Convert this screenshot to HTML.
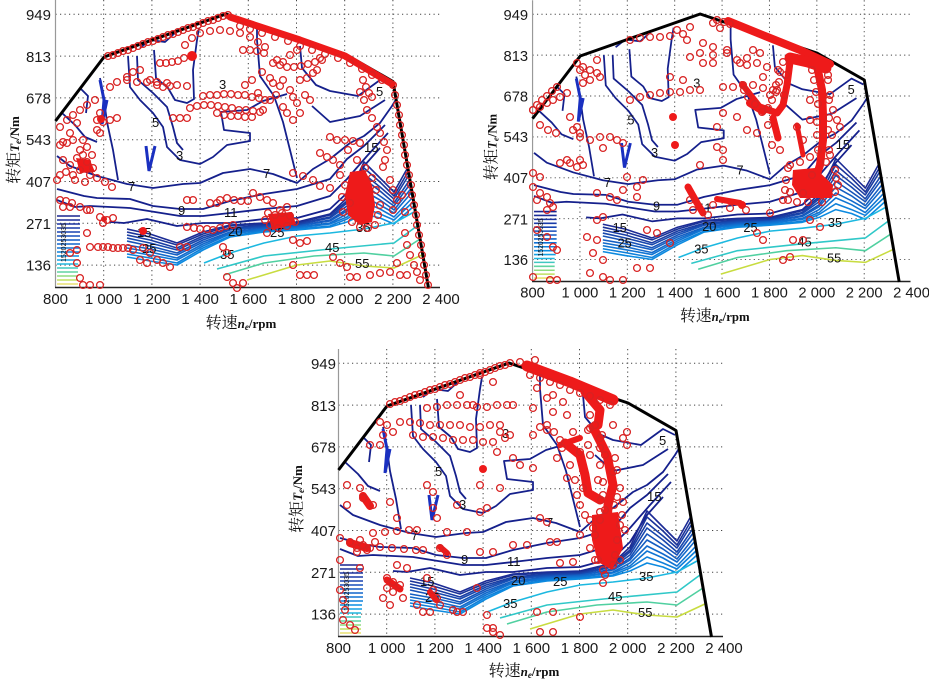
<!DOCTYPE html>
<html><head><meta charset="utf-8">
<style>
body{margin:0;background:#fff}
svg{display:block}
.p{fill:none;stroke:none;marker-start:url(#m);marker-mid:url(#m);marker-end:url(#m)}
.t{font-family:"Liberation Sans",sans-serif;font-size:15px;fill:#1a1a1a}
.cl{font-family:"Liberation Sans",sans-serif;font-size:13px;fill:#111}
.nv{fill:none;stroke:#15208c;stroke-width:1.8;stroke-linejoin:round}
.rd{fill:none;stroke:#ee1a1a;stroke-linecap:round;stroke-linejoin:round}
.ti{font-family:"Liberation Serif","Noto Serif CJK SC",serif;font-size:16px;fill:#111}
.b{font-weight:bold;font-size:13px}
.bi{font-weight:bold;font-style:italic;font-size:13px}
.sb{font-weight:bold;font-style:italic;font-size:9px}
</style></head><body>
<svg width="929" height="680" viewBox="0 0 929 680" xmlns="http://www.w3.org/2000/svg">
<defs>
<marker id="m" markerUnits="userSpaceOnUse" markerWidth="10" markerHeight="10" refX="5" refY="5" overflow="visible"><circle cx="5" cy="5" r="3.4" fill="none" stroke="#d82222" stroke-width="1.3"/></marker>
<clipPath id="cb"><polygon points="55.5,121 104,57 226,13 345,54 393,81.5 428.5,288 55.5,288"/></clipPath>
<g id="fr">
<path d="M55.5,14.3H440M55.5,56.1H440M55.5,97.9H440M55.5,139.7H440M55.5,181.5H440M55.5,223.3H440M55.5,265.1H440M103.7,0V287M151.9,0V287M200.1,0V287M248.3,0V287M296.5,0V287M344.7,0V287M392.9,0V287" stroke="#444" stroke-width="1" stroke-dasharray="1.2 3.3" fill="none"/>
<path d="M55.5,0V287.5" stroke="#999" stroke-width="1.2"/>
<path d="M55,287.5H440" stroke="#222" stroke-width="1.6"/>
</g>
<g id="ct" clip-path="url(#cb)">
<polyline class="nv" points="57,156 70,166 97,176 127,184 153,188 183,184 200,183 223,173 250,169 273,174 297,183 313,169 330,159 350,143 364,136 380,123 392,106 400,93"/>
<polyline class="nv" points="57,189 84,196 97,198 130,199 153,206 180,209 203,209 230,201 264,194 297,189 330,179 347,159 364,146 385,125"/>
<polyline class="nv" points="57,200 75,207 90,206 130,208 180,216 203,216 230,213 264,209 297,206 330,196 347,179 367,156 388,133"/>
<polyline class="nv" points="110,222 124,223 147,219 177,226 203,223 230,223 264,219 297,218 330,209 347,193 364,166 380,148"/>
<polyline class="nv" points="128,56 130,87 140,100 153,113 163,127 167,147 180,160 200,164 213,157 227,145 250,141 250,133 224,130 221,112 247,110 263,101 287,94"/>
<polyline class="nv" points="257,20 257,40 260,76 274,96 283,122 290,150 297,178"/>
<polyline class="nv" points="137,56 138,80 153,93 167,107 173,127 177,143 183,150"/>
<polyline class="nv" points="154,50 156,78 168,88 175,100 187,103 194,99 193,70 197,40 199,28"/>
<polyline class="nv" points="300,46 302,68 316,85 330,91 358,96 380,80 392,86"/>
<polyline class="nv" points="312,106 330,122 360,116 385,100"/>
<polyline class="nv" points="100,78 104,100 107,122 113,150 118,180"/>
<polyline class="nv" points="62,113 75,125 85,137 97,142"/>
<polyline class="nv" points="75,83 88,96 86,113"/>
<polyline class="nv" points="140,48 150,40 165,42 175,33"/>
<polyline points="100,80 104,100 102,124 107,100" fill="none" stroke="#1a30c0" stroke-width="3"/>
<polyline points="146,146 149,171 155,146" fill="none" stroke="#1a30c0" stroke-width="3"/>
<g fill="none" stroke-width="1.6" stroke-linejoin="round">
<polyline stroke="#1b2a95" points="127,229 150,234 177,243 203,232 230,225 264,223 297,222 330,214 347,198 364,162 380,178 394,192 412,160"/>
<polyline stroke="#1a3399" points="127,232 150,237 177,245 203,234 230,226 264,224 297,223 330,215 347,201 364,168 380,182 394,196 412,165"/>
<polyline stroke="#1a3da3" points="127,235 150,240 177,248 203,236 230,228 264,225 297,224 330,217 347,203 364,174 380,187 394,199 412,170"/>
<polyline stroke="#1847ad" points="127,238 150,243 177,250 203,238 230,229 264,226 297,225 330,218 347,206 364,179 380,191 394,203 413,175"/>
<polyline stroke="#1652b8" points="127,241 150,246 177,253 203,240 230,230 264,227 297,226 330,220 347,209 364,185 380,196 394,206 413,180"/>
<polyline stroke="#145ec2" points="127,245 150,249 177,255 203,242 230,232 264,228 297,226 330,221 347,211 364,191 380,200 394,210 413,186"/>
<polyline stroke="#126acb" points="127,248 150,252 177,258 203,244 230,233 264,229 297,227 330,223 347,214 364,197 380,205 394,213 413,191"/>
<polyline stroke="#1075d3" points="127,251 150,255 177,260 203,246 230,234 264,230 297,228 330,224 347,217 364,202 380,209 394,217 414,196"/>
<polyline stroke="#0e80da" points="127,254 150,258 177,263 203,248 230,236 264,231 297,229 330,226 347,219 364,208 380,214 394,220 414,201"/>
<polyline stroke="#0c8ae0" points="127,257 150,261 177,265 203,250 230,237 264,232 297,230 330,227 347,222 364,214 380,218 394,224 414,206"/>
<polyline stroke="#1cb8e0" points="204,263 230,253 264,243 297,236 330,233 364,229 394,223 414,212"/>
<polyline stroke="#30c8c8" points="217,269 264,256 330,249 394,243 417,226"/>
<polyline stroke="#50d0a0" points="224,275 264,263 314,256 364,253 394,256 420,239"/>
<polyline stroke="#c8dc40" points="247,280 297,265 330,261 364,266 394,268 424,254"/>
</g>
<g stroke-width="1.6">
<path d="M57,216H80" stroke="#1a2590"/><path d="M57,220H80" stroke="#1a2c98"/><path d="M57,224H80" stroke="#1b33a0"/><path d="M57,228H80" stroke="#1a3ba8"/><path d="M57,232H80" stroke="#1844b2"/><path d="M57,236H80" stroke="#164ebb"/><path d="M57,240H80" stroke="#145ac4"/><path d="M57,244H80" stroke="#1266cc"/><path d="M57,248H80" stroke="#1072d4"/><path d="M57,252H80" stroke="#0e80dc"/><path d="M57,256H79" stroke="#0c8ee2"/><path d="M57,260H79" stroke="#16a0e4"/><path d="M57,264H78" stroke="#20b8e0"/><path d="M57,268H78" stroke="#40c8c0"/><path d="M57,272H78" stroke="#60d4a0"/><path d="M57,276H78" stroke="#90dc80"/><path d="M57,280H78" stroke="#c0e060"/><path d="M57,284H78" stroke="#e8e070"/>
</g>
</g>
<polyline id="bd" points="55.5,121 104,57 226,14 345,54 393,81.5 428.5,288" fill="none" stroke="#000" stroke-width="3" stroke-linejoin="round"/>
</defs>

<!-- PLOT 1 -->
<g>
<use href="#fr"/><use href="#ct"/><use href="#bd"/>
<g class="cl">
<text x="219" y="89">3</text><text x="152" y="127">5</text><text x="176" y="160">3</text><text x="128" y="191">7</text><text x="263" y="178">7</text><text x="178" y="215">9</text><text x="224" y="217">11</text><text x="137" y="237">15</text><text x="142" y="253">25</text><text x="228" y="236">20</text><text x="270" y="237">25</text><text x="356" y="232">35</text><text x="325" y="252">45</text><text x="355" y="268">55</text><text x="220" y="259">35</text><text x="376" y="96">5</text><text x="364" y="152">15</text>
<text transform="translate(66,262) rotate(-90)" font-size="7">1520253035</text>
</g>
<g class="t" text-anchor="end"><text x="51" y="20">949</text><text x="51" y="62">813</text><text x="51" y="103.5">678</text><text x="51" y="145">543</text><text x="51" y="187">407</text><text x="51" y="229">271</text><text x="51" y="270.5">136</text></g>
<g class="t" text-anchor="middle"><text x="55.5" y="304">800</text><text x="103.7" y="304">1 000</text><text x="151.9" y="304">1 200</text><text x="200.1" y="304">1 400</text><text x="248.3" y="304">1 600</text><text x="296.5" y="304">1 800</text><text x="344.7" y="304">2 000</text><text x="392.9" y="304">2 200</text><text x="441" y="304">2 400</text></g>
<text class="ti" transform="translate(19,150) rotate(-90)" text-anchor="middle">转矩<tspan class="bi">T</tspan><tspan class="sb" dy="2">e</tspan><tspan class="b" dy="-2">/Nm</tspan></text>
<text class="ti" x="241" y="328" text-anchor="middle">转速<tspan class="bi">n</tspan><tspan class="sb" dy="2">e</tspan><tspan class="b" dy="-2">/rpm</tspan></text>
</g>

<!-- PLOT 2 -->
<g transform="translate(478,0.3) scale(0.983,0.978)">
<use href="#fr"/><use href="#ct"/><use href="#bd"/>
<g class="cl">
<text x="219" y="89">3</text><text x="152" y="127">5</text><text x="176" y="160">3</text><text x="128" y="191">7</text><text x="263" y="178">7</text><text x="178" y="215">9</text><text x="224" y="217">11</text><text x="137" y="237">15</text><text x="142" y="253">25</text><text x="228" y="236">20</text><text x="270" y="237">25</text><text x="356" y="232">35</text><text x="325" y="252">45</text><text x="355" y="268">55</text><text x="220" y="259">35</text><text x="376" y="96">5</text><text x="364" y="152">15</text>
<text transform="translate(66,262) rotate(-90)" font-size="7">1520253035</text>
</g>
<g class="t" text-anchor="end"><text x="51" y="20">949</text><text x="51" y="62">813</text><text x="51" y="103.5">678</text><text x="51" y="145">543</text><text x="51" y="187">407</text><text x="51" y="229">271</text><text x="51" y="270.5">136</text></g>
<g class="t" text-anchor="middle"><text x="55.5" y="304">800</text><text x="103.7" y="304">1 000</text><text x="151.9" y="304">1 200</text><text x="200.1" y="304">1 400</text><text x="248.3" y="304">1 600</text><text x="296.5" y="304">1 800</text><text x="344.7" y="304">2 000</text><text x="392.9" y="304">2 200</text><text x="441" y="304">2 400</text></g>
<text class="ti" transform="translate(19,150) rotate(-90)" text-anchor="middle">转矩<tspan class="bi">T</tspan><tspan class="sb" dy="2">e</tspan><tspan class="b" dy="-2">/Nm</tspan></text>
<text class="ti" x="241" y="328" text-anchor="middle">转速<tspan class="bi">n</tspan><tspan class="sb" dy="2">e</tspan><tspan class="b" dy="-2">/rpm</tspan></text>
</g>

<!-- PLOT 3 -->
<g transform="translate(283,349)">
<use href="#fr"/><use href="#ct"/><use href="#bd"/>
<g class="cl">
<text x="219" y="89">3</text><text x="152" y="127">5</text><text x="176" y="160">3</text><text x="128" y="191">7</text><text x="263" y="178">7</text><text x="178" y="215">9</text><text x="224" y="217">11</text><text x="137" y="237">15</text><text x="142" y="253">25</text><text x="228" y="236">20</text><text x="270" y="237">25</text><text x="356" y="232">35</text><text x="325" y="252">45</text><text x="355" y="268">55</text><text x="220" y="259">35</text><text x="376" y="96">5</text><text x="364" y="152">15</text>
<text transform="translate(66,262) rotate(-90)" font-size="7">1520253035</text>
</g>
<g class="t" text-anchor="end"><text x="53" y="20">949</text><text x="53" y="62">813</text><text x="53" y="103.5">678</text><text x="53" y="145">543</text><text x="53" y="187">407</text><text x="53" y="229">271</text><text x="53" y="270.5">136</text></g>
<g class="t" text-anchor="middle"><text x="55.5" y="304">800</text><text x="103.7" y="304">1 000</text><text x="151.9" y="304">1 200</text><text x="200.1" y="304">1 400</text><text x="248.3" y="304">1 600</text><text x="296.5" y="304">1 800</text><text x="344.7" y="304">2 000</text><text x="392.9" y="304">2 200</text><text x="441" y="304">2 400</text></g>
<text class="ti" transform="translate(19,150) rotate(-90)" text-anchor="middle">转矩<tspan class="bi">T</tspan><tspan class="sb" dy="2">e</tspan><tspan class="b" dy="-2">/Nm</tspan></text>
<text class="ti" x="241" y="327" text-anchor="middle">转速<tspan class="bi">n</tspan><tspan class="sb" dy="2">e</tspan><tspan class="b" dy="-2">/rpm</tspan></text>
</g>

<!-- SCATTER PLOT 1 -->
<g>
<polyline class="rd" stroke-width="7" points="230,17 300,40 345,56 392,84"/>
<path fill="#ee1a1a" d="M350,172 L365,170 L372,185 L375,205 L372,222 L360,225 L348,215 L345,195 Z"/>
<path fill="#ee1a1a" d="M268,214 L292,212 L296,224 L272,230 Z"/>
<path fill="#ee1a1a" d="M76,158 L90,160 L95,172 L80,173 Z"/>
<circle cx="192" cy="56" r="5" fill="#ee1a1a"/><circle cx="143" cy="231" r="4" fill="#ee1a1a"/><circle cx="101" cy="119" r="4" fill="#ee1a1a"/><circle cx="104" cy="219" r="3" fill="#ee1a1a"/>
<polyline class="p" points="108,56 113,55 118,53 123,51 128,50 133,48 138,46 143,44 148,42 153,41 158,39 163,37 168,35 173,34 178,32 183,30 188,28 193,27 198,25 203,23 208,21 213,20 218,18 223,16 228,15"/>
<polyline class="p" points="185,45 192,38 200,33 210,31 220,30 230,31 240,33 250,37 258,42 265,47"/>
<polyline class="p" points="160,63 166,63 172,62 178,61 184,58 150,80 157,85 163,87 170,86 110,87 117,82 127,77 133,72 140,70 127,80 137,82 147,82 157,82 167,83 177,85 187,86"/>
<polyline class="p" points="203,96 210,95 217,95 224,94 231,94 238,95 245,95 252,97 259,98 190,108 197,106 204,105 211,105 218,106 225,107 232,108 239,110 246,110 253,111 260,112"/>
<polyline class="p" points="173,118 180,118 187,118 217,113 224,115 231,116 238,116 245,117 252,117 243,50 250,50 257,51 264,53 277,60 297,50 320,58 290,55 283,62 273,63 280,65 287,67 294,67 301,66 308,64 315,62 322,60"/>
<polyline class="p" points="262,72 270,78 273,83 280,86 283,80 290,90 293,97 297,103 300,80 307,78 313,73 317,70 276,95 283,107 300,113 293,120 305,95 310,100 287,113 270,100 263,110 258,93 265,100 245,85 252,80"/>
<polyline class="p" points="363,80 366,87 369,93 372,97 364,100 360,92 367,110 372,118 377,127 380,133 384,142 387,150 385,160 383,167"/>
<polyline class="p" points="330,137 337,140 345,140 353,141 360,143 320,153 327,157 333,160 340,165 340,175 345,185 342,197 350,203 343,212 352,222 360,227 368,228 375,225 378,215 380,205 376,190 372,178 365,168 357,160 348,150"/>
<polyline class="p" points="390,180 393,190 397,200 393,210 313,180 320,186 330,188 293,173 303,176 253,193 260,197 267,200 273,203 287,207 280,210 268,213 275,215 282,213 290,216 295,222 287,226 278,228 270,225 265,220"/>
<polyline class="p" points="220,200 227,198 234,200 241,201 248,201 187,200 193,200 210,203 217,203 187,227 194,228 200,229 207,229 213,230 220,228 226,226 233,225"/>
<polyline class="p" points="267,233 293,240 300,243 307,241 300,275 307,275 314,275 293,265 333,257 340,263 347,267 350,277 357,277 370,275 380,273 390,272 400,275 407,275 397,263 227,277 233,283 243,283 237,288 223,247 227,253"/>
<polyline class="p" points="157,260 163,263 170,267 180,247 187,247 150,253 143,248 140,260 147,263 90,247 87,233 98,247 103,247 108,247 113,248 118,248 123,248 128,248 133,250 100,217 107,220 113,218 103,223"/>
<polyline class="p" points="60,200 66,201 72,203 80,207 87,210 63,207 70,207 90,210 70,165 77,158 83,155 87,162 93,168 80,170 73,175 66,172 90,175 97,178 105,182 112,187 60,175 63,160 57,180 75,180 85,182 80,150 92,155"/>
<polyline class="p" points="60,127 67,120 73,115 80,110 77,123 70,133 63,142 60,145 67,143 73,140 97,120 103,122 110,120 117,118 97,130 100,133 83,140 87,147 87,105 95,100 100,113 80,278 83,285 90,285 100,285 77,263 77,250 70,253"/>
<polyline class="p" points="393,85 395,95 397,105 399,115 400,125 402,135 404,145 405,155 407,165 409,175 411,185 412,195 414,205 416,215 417,225 419,235 421,245 422,255 424,265 426,275 428,285 405,233 407,245 410,255 414,265 417,272 420,280 402,195 405,212"/>
<polyline class="p" points="240,26 250,29 262,33 275,37 288,41 300,46 312,50 325,54 338,58 350,63 362,69 372,75 382,80"/>
</g>

<!-- SCATTER PLOT 2 -->
<g>
<polyline class="rd" stroke-width="8" points="728,21 770,38 800,50 830,64"/>
<polyline class="rd" stroke-width="11" points="790,58 808,62 826,68"/>
<polyline class="rd" stroke-width="7" points="790,62 787,85 783,105 777,113 760,107"/>
<polyline class="rd" stroke-width="6" points="742,84 760,107"/>
<polyline class="rd" stroke-width="7" points="773,118 778,138"/>
<polyline class="rd" stroke-width="8" points="817,66 822,90 823,115 823,140 820,165 815,180"/>
<path fill="#ee1a1a" d="M793,170 L815,168 L833,185 L832,198 L800,198 L792,185 Z"/>
<polyline class="rd" stroke-width="5" points="797,125 803,155"/>
<polyline class="rd" stroke-width="7" points="688,187 697,203 703,213"/>
<polyline class="rd" stroke-width="6" points="717,199 740,203"/>
<polyline class="rd" stroke-width="8" points="750,103 763,111"/>
<circle cx="673" cy="117" r="4" fill="#ee1a1a"/><circle cx="675" cy="145" r="4" fill="#ee1a1a"/><circle cx="742" cy="205" r="4" fill="#ee1a1a"/>
<polyline class="p" points="717,20 724,22 730,24 713,23 720,28 677,30 690,27 683,34 630,40 640,38 650,37 660,37 670,36 687,40 703,43 727,50 713,47 690,57 700,53 713,55 727,53 737,60"/>
<polyline class="p" points="703,63 713,63 740,63 747,65 757,63 767,67 747,58 670,77 683,80 723,87 733,87 743,85 753,85 763,88 773,90"/>
<polyline class="p" points="630,100 640,97 650,95 660,93 670,92 680,92 690,90 700,90 577,63 583,67 590,70 597,73 600,77 590,80 583,83 580,70 597,60 585,75"/>
<polyline class="p" points="533,110 540,107 547,103 553,100 560,97 567,93 570,117 577,127 580,133 573,130 580,137 590,140 600,137 610,137 617,140 623,143 603,148 570,163 577,167 583,165 580,160 560,163 567,160"/>
<polyline class="p" points="533,187 540,193 547,197 550,203 553,207 547,210 537,200 533,173 540,177 597,193 610,197 623,190 637,187 643,180 627,177 617,200 637,197 597,220 603,217"/>
<polyline class="p" points="587,237 597,240 593,253 603,260 590,273 603,277 610,280 623,280 637,268 650,268 647,230 537,230 547,237 553,247 557,250 533,277 550,280 557,280 657,233 670,243"/>
<polyline class="p" points="757,233 763,240 783,260 790,257 793,240 803,240 810,220 820,227 770,213 783,200 803,193 797,127 803,140 810,157 837,120 840,127 753,50 760,53"/>
<polyline class="p" points="717,147 723,150 723,113 737,117 757,133 700,165 723,160 717,127 747,130 763,77 777,90 778,70 776,85 770,95 768,125 772,145 780,150 828,75 830,95 833,110 832,135 830,155 810,100 810,120"/>
<polyline class="p" points="533,110 537,105 542,100 547,96 552,91 557,87 540,125 548,130 556,133 690,200 693,210 708,215 713,205 730,208 746,210 790,165 800,162 835,170 838,185 785,190 788,200"/>
<polyline class="p" points="783,62 780,72 779,82 776,92 772,100 768,108 762,112 755,104 748,97 744,90 784,95 786,75 812,70 814,80 816,92 818,104 828,80 829,100 829,118 828,130 829,150 826,162 818,150 817,135 817,122 812,175 788,168 786,180 790,192 797,202 808,202 822,202 835,192 836,178"/>
</g>

<!-- SCATTER PLOT 3 -->
<g>
<polyline class="rd" stroke-width="11" points="527,366 570,382 613,400"/>
<polyline class="rd" stroke-width="9" points="585,392 600,410 598,425"/>
<polyline class="rd" stroke-width="9" points="593,427 607,455 613,485 608,505 607,527"/>
<path fill="#ee1a1a" d="M592,515 L618,512 L623,548 L612,570 L598,562 L592,540 Z"/>
<polyline class="rd" stroke-width="9" points="565,443 580,455 585,475 588,493 600,500"/>
<polyline class="rd" stroke-width="6" points="560,445 580,438"/>
<polyline class="rd" stroke-width="8" points="363,496 370,506"/>
<polyline class="rd" stroke-width="8" points="350,543 367,548"/>
<polyline class="rd" stroke-width="7" points="387,580 400,589"/>
<polyline class="rd" stroke-width="6" points="430,592 436,600"/>
<polyline class="rd" stroke-width="6" points="440,547 447,553"/>
<circle cx="483" cy="469" r="4" fill="#ee1a1a"/>
<polyline class="p" points="390,404 395,402 400,401 405,399 410,397 415,395 420,394 425,392 430,390 435,389 440,387 445,385 450,384 455,382 460,380 465,378 470,377 475,375 480,373 485,372 490,370 495,368 500,366 505,365 510,363"/>
<polyline class="p" points="537,388 547,398 563,402 553,395 480,375 493,382 460,395 473,405 513,405 533,408 553,412 567,415 427,408 437,407 447,405 457,405 467,405 477,407 487,407 497,405 507,405"/>
<polyline class="p" points="380,422 393,432 383,435 387,425 400,422 410,422 420,423 430,425 440,425 450,425 460,425 470,427 480,427 490,425 500,425 413,435 423,437 433,437 443,438 453,440 463,440 473,440 483,442 493,442"/>
<polyline class="p" points="370,445 380,445 500,432 510,435 505,438 497,452 513,458 520,465 533,468 480,485 500,488 487,508 480,512 457,505 427,485 433,492 433,508 437,518"/>
<polyline class="p" points="347,485 360,488 363,498 373,505 347,505 390,502 397,518 350,542 357,548 363,545 370,548 375,542 360,540 367,550 340,538 340,560 357,552 360,568"/>
<polyline class="p" points="387,578 393,582 400,585 393,592 387,588 383,598 390,605 403,598 417,605 423,612 430,612 397,565 407,568 373,533 385,532 397,531 409,530 417,530 380,547 392,548 404,549 416,550 423,550"/>
<polyline class="p" points="427,578 433,590 437,598 440,605 440,548 447,555 447,532 467,532 457,612 463,612 477,588 480,552 493,552 487,615 487,628 493,628 493,632 500,635 537,612 553,612 540,632 553,632 580,617 603,583 453,610"/>
<polyline class="p" points="560,563 573,562 550,542 557,542 580,535 593,528 513,545 527,545 540,518 547,522 533,435 560,440 580,452 547,425 573,432 613,425 627,432 623,438 627,445 613,472 620,488 623,502"/>
<polyline class="p" points="557,458 567,478 577,495 590,428 600,438 590,415 595,425 602,435 605,455 600,465 598,480 603,495 605,510 600,520 595,535 615,555 617,540 620,525 613,565 603,570 598,560 585,515 580,505"/>
<polyline class="p" points="340,590 343,600 345,610 343,620 350,625 355,630 540,427 547,430 554,432 562,448 570,465 575,480 583,488 590,455"/>
<polyline class="p" points="588,430 588,445 600,448 615,458 617,470 603,482 617,497 601,500 614,505 600,512 622,515 625,530 590,548 595,560 620,560 605,575 590,520 530,375 540,378 550,382 560,385 570,390 580,393 590,396 600,400 610,405 520,362 535,360"/>
</g>
</svg>
</body></html>
